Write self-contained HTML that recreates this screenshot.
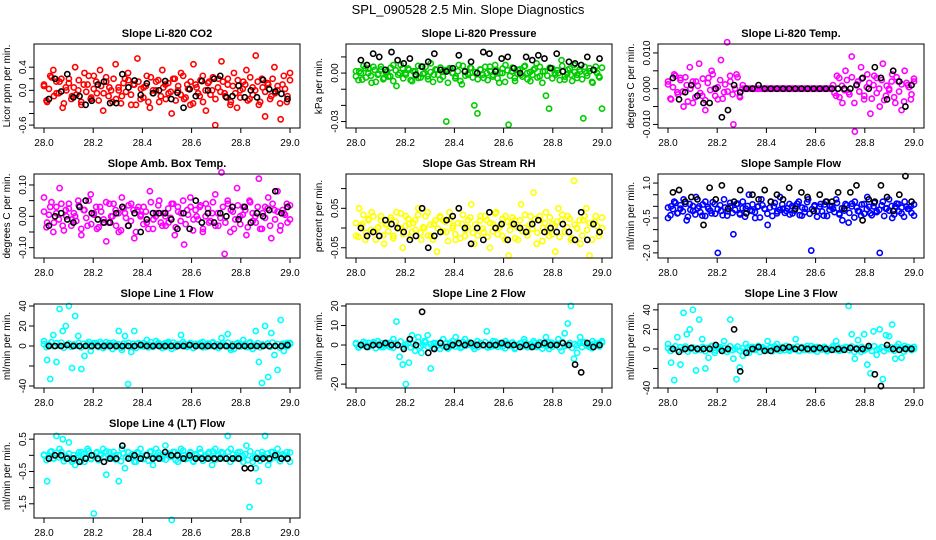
<!DOCTYPE html>
<html><head><meta charset="utf-8"><style>
body{margin:0;background:#fff;}
svg{display:block;font-family:"Liberation Sans",sans-serif;}
</style></head><body>
<svg id="chart" width="936" height="540" viewBox="0 0 936 540">
<rect x="0" y="0" width="936" height="540" fill="#fff"/>
<text x="468" y="14" text-anchor="middle" font-size="13">SPL_090528  2.5 Min. Slope Diagnostics</text>
</svg>
<script>
const xTicks=[28.0,28.2,28.4,28.6,28.8,29.0];
const coreNoise=[3,-7,1,9,-4,6,-2,8,-9,0,5,-6,2,-3,7,-8,4,-1,10,-5,1,6,-7,3,-2,9,-4,0,8,-6,2,-9,5,-1,7,-3,4,-10,6,1,-5,3,-8,9,-2,0,7,-4,2,-6,5,-1,8,-7,3,-3,10,-5,1,6,-9,4,-2,7,-8,0,5,-3,9,-6,2,-1,6,-4,8,-10,3,-2,7,-5,1,4,-7,9,-3,0,6,-8,2,-1,5,-6,8,-2,3,-9,4,1,-4,7];
const co2Cloud=[10,-20,25,35,-5,15,-30,5,20,-10,40,0,-25,30,10,-15,25,-5,35,-35,15,5,-20,45,0,-10,20,30,-25,10,55,-15,5,25,-30,0,15,-20,35,10,-5,-40,20,0,30,-15,10,-25,45,5,-10,25,-35,15,0,-60,20,50,-5,10,-20,30,-30,0,15,35,-15,5,60,-25,20,-45,10,-10,40,0,-50,25,-20,30];
const co2Black=[-15,20,-2,28,-12,-10,-25,-18,10,15,-22,-22,28,5,17,-8,12,-5,0,16,-15,-4,-30,2,-10,16,0,20,25,-12,-10,8,-12,0,-12,18,2,-2,-6,-15];
const presCloud=[-2,1,-4,3,0,-6,2,-1,4,-3,1,-2,5,-8,0,3,-1,2,-5,1,-3,4,0,-2,6,-1,2,-4,1,-30,3,0,-2,5,-7,1,-1,3,-20,-25,2,-3,0,4,-1,2,-6,0,5,-32,1,-3,2,-1,4,0,-5,2,6,-2,1,-14,-22,3,-1,0,8,-4,2,-1,5,-3,1,-28,0,3,-6,4,-2,-22];
const presBlack=[8,5,12,10,2,13,8,6,9,-1,4,7,12,2,1,3,11,1,7,0,13,12,1,9,10,3,0,10,8,11,9,3,12,1,7,6,5,10,2,9];
const tempCloud=[2,-3,4,-1,3,-5,1,6,-4,2,7,-2,-6,3,5,0,-3,8,-1,13,2,-10,4,-2,1,0,0,0,0,0,0,0,0,0,0,0,0,0,0,0,0,0,0,0,0,0,0,0,0,0,0,0,0,1,-2,3,-4,5,-1,9,-12,2,6,-3,4,-7,1,3,-5,7,-2,0,4,-4,2,-6,5,1,-3,2];
const tempBlack=[3,-3,-1,1,-2,-4,-4,0,-8,-6,1,-1,0,0,1,0,0,0,0,0,0,0,0,0,0,0,0,0,0,0,1,3,0,6,3,-3,5,2,-5,1];
const ambCloud=[6,-2,3,-5,1,9,-3,2,4,-1,0,5,-6,2,-3,7,1,-4,3,-2,-8,4,0,2,-5,6,1,-3,4,-7,2,0,3,-2,8,-4,1,5,-3,0,-2,4,-6,3,1,-9,2,6,-1,0,3,-5,4,-2,1,7,-3,14,-12,5,2,-4,9,0,3,-6,5,1,-2,12,-4,3,6,-7,2,8,-3,1,4,-1];
const ambBlack=[-3,0,1,-1,-2,3,5,1,-1,-2,-2,1,3,-3,1,-5,-1,1,1,1,-1,-4,1,-4,5,-2,1,-2,1,0,3,-1,3,-2,1,0,2,8,1,3];
const rhCloud=[-2,5,1,-3,2,4,-1,0,3,-4,1,2,-2,4,0,-5,3,1,-1,2,5,-3,0,4,-2,1,-6,3,2,-1,4,0,-3,5,1,-2,2,6,-4,0,3,-1,2,-5,1,4,0,-2,3,-7,1,2,-3,6,0,-1,3,9,-4,2,0,4,-2,1,-6,5,2,-1,3,-3,12,0,-4,2,5,-7,1,3,-2,0];
const rhBlack=[0,-2,-1,-2,2,1,0,-1,-3,-2,5,-5,-2,-1,2,3,5,0,-4,0,-3,4,0,1,-3,1,0,-1,1,2,-1,0,-1,1,-1,-3,4,-3,1,-1];
const flowCloud=[-5,0,2,-3,-1,3,-6,1,-2,4,0,-4,2,-1,-3,1,-20,-2,3,-4,0,-12,1,-3,2,-1,5,-2,-5,0,3,-1,-8,2,0,-3,4,-1,-2,1,-3,0,2,-4,-1,3,-19,0,-2,1,-4,2,0,-1,3,-3,-6,1,-7,0,2,-2,-4,1,4,-3,0,-2,-20,2,-1,3,-5,0,1,-3,2,-1,0,-4];
const flowBlack=[6,7,2,4,3,-8,8,3,9,-1,2,7,-3,5,3,7,2,5,3,8,-1,6,4,-2,5,2,2,6,-1,6,9,-6,3,2,9,4,-2,5,13,2];
const l1Cloud=[5,-14,-33,11,-16,37,15,20,40,-22,30,10,-23,-10,2,-5,3,0,4,-2,1,3,-3,2,15,-4,10,-38,-6,15,2,0,3,6,1,-1,5,2,-2,3,4,-3,1,0,11,2,-1,3,-2,0,1,4,-1,2,3,0,-2,8,1,12,-4,-3,2,0,6,-1,3,-3,15,-16,-37,20,-31,13,-9,-24,26,-5,3,2];
const l1Black=[0,0,0,1,0,0,0,0,0,0,0,0,0,0,0,1,0,0,0,0,0,0,0,1,0,0,0,0,0,0,0,0,0,0,0,0,0,0,0,1];
const l2Cloud=[1,-1,0,1,-1,0,1,2,-1,0,1,-1,3,12,-6,-10,-20,-9,5,-3,4,-4,2,5,-12,1,0,-2,3,1,-1,2,4,0,-1,3,1,0,-2,2,1,0,7,-1,2,0,1,-1,2,0,1,-2,0,1,3,0,-1,2,-1,1,0,4,-2,1,0,3,-3,6,11,20,-7,-4,4,1,0,-1,2,0,1,2];
const l2Black=[0,-1,0,0,1,0,0,-2,3,0,17,-4,-2,1,-1,0,1,0,1,0,0,0,0,1,0,0,-1,0,-1,0,1,0,0,1,0,-10,-14,1,-1,0];
const l3Cloud=[5,-14,-32,12,-16,37,15,20,40,-22,30,10,-20,-9,3,-4,2,0,8,-3,30,-10,-31,-19,-7,5,-4,2,0,3,1,-1,8,2,0,5,-2,1,3,-1,0,10,-2,2,1,0,3,-1,2,0,1,-2,0,3,8,0,-1,2,44,15,-10,9,-3,15,-16,-25,18,-6,20,-31,14,13,25,-10,5,-9,3,2,1,0];
const l3Black=[0,-3,0,1,0,0,0,4,-2,0,20,-23,-4,0,2,-2,-2,0,1,2,0,1,0,0,1,0,-1,0,-1,1,0,0,3,-26,-38,4,0,-1,0,0];
const l4Cloud=[0,-8,1,-1,6,2,5,-1,4,-2,-3,0,1,-2,2,-1,-18,1,0,2,-6,1,-1,0,-8,2,-4,1,0,-2,1,2,-1,0,1,-3,2,0,-1,3,0,-20,1,-2,2,0,-1,1,-2,0,2,-1,0,1,-3,2,0,1,-1,6,2,-1,0,1,-2,3,-16,-2,-4,-8,1,6,-3,1,0,2,-1,0,1,-2];
const l4Black=[-1,0,0,-1,-1,-2,-1,0,-1,-2,-1,-1,3,-1,0,-1,0,-1,-1,1,0,0,-1,0,-1,-1,-1,-1,-1,-1,-1,-1,-4,-4,-1,-1,-1,0,-1,-1];

const NS='http://www.w3.org/2000/svg';
const svg=document.getElementById('chart');
function mk(tag,attrs,parent){const e=document.createElementNS(NS,tag);for(const k in attrs)e.setAttribute(k,attrs[k]);(parent||svg).appendChild(e);return e;}

const panels=[
 {id:'co2',title:'Slope Li-820 CO2',ylab:'Licor ppm per min.',col:'#ff0000',c:0,r:0,ymin:-0.65,ymax:0.8,scale:0.01,coreC:0,coreA:0.25,ticks:[-0.6,-0.4,-0.2,0,0.2,0.4],labels:['-0.6','','','0.0','','0.4'],cloud:co2Cloud,black:co2Black},
 {id:'pressure',title:'Slope Li-820 Pressure',ylab:'kPa per min.',col:'#00cc00',c:1,r:0,ymin:-0.034,ymax:0.018,scale:0.001,coreC:-0.0005,coreA:0.0055,ticks:[-0.03,-0.02,-0.01,0,0.01],labels:['-0.03','','','0.00',''],cloud:presCloud,black:presBlack},
 {id:'temp',title:'Slope Li-820 Temp.',ylab:'degrees C per min.',col:'#ff00ff',c:2,r:0,ymin:-0.011,ymax:0.0125,scale:0.001,coreC:0,coreA:0.004,flat:[28.3,28.67],ticks:[-0.01,-0.005,0,0.005,0.01],labels:['-0.010','','0.000','','0.010'],cloud:tempCloud,black:tempBlack},
 {id:'amb',title:'Slope Amb. Box Temp.',ylab:'degrees C per min.',col:'#ff00ff',c:0,r:1,ymin:-0.133,ymax:0.135,scale:0.01,coreC:0,coreA:0.05,ticks:[-0.1,-0.05,0,0.05,0.1],labels:['-0.10','','0.00','','0.10'],cloud:ambCloud,black:ambBlack},
 {id:'rh',title:'Slope Gas Stream RH',ylab:'percent per min.',col:'#ffff00',c:1,r:1,ymin:-0.076,ymax:0.137,scale:0.01,coreC:0.002,coreA:0.035,ticks:[-0.05,0,0.05,0.1],labels:['-0.05','','0.05',''],cloud:rhCloud,black:rhBlack},
 {id:'sample-flow',title:'Slope Sample Flow',ylab:'ml/min per min.',col:'#0000ff',c:2,r:1,ymin:-2.22,ymax:1.39,scale:0.1,coreC:-0.15,coreA:0.33,ticks:[-2,-1.5,-1,-0.5,0,0.5,1],labels:['-2.0','','','-0.5','','','1.0'],cloud:flowCloud,black:flowBlack},
 {id:'line1',title:'Slope Line 1 Flow',ylab:'ml/min per min.',col:'#00ffff',c:0,r:2,ymin:-42,ymax:42,scale:1,coreC:1,coreA:3,ticks:[-40,-20,0,20,40],labels:['-40','','0','20','40'],cloud:l1Cloud,black:l1Black},
 {id:'line2',title:'Slope Line 2 Flow',ylab:'ml/min per min.',col:'#00ffff',c:1,r:2,ymin:-22,ymax:21,scale:1,coreC:0,coreA:1.8,ticks:[-20,-10,0,10,20],labels:['-20','','0','10','20'],cloud:l2Cloud,black:l2Black},
 {id:'line3',title:'Slope Line 3 Flow',ylab:'ml/min per min.',col:'#00ffff',c:2,r:2,ymin:-40,ymax:46,scale:1,coreC:0,coreA:3,ticks:[-40,-20,0,20,40],labels:['-40','','0','20','40'],cloud:l3Cloud,black:l3Black},
 {id:'line4',title:'Slope Line 4 (LT) Flow',ylab:'ml/min per min.',col:'#00ffff',c:0,r:3,ymin:-1.94,ymax:0.66,scale:0.1,coreC:-0.03,coreA:0.17,ticks:[-1.5,-1,-0.5,0,0.5],labels:['-1.5','','-0.5','','0.5'],cloud:l4Cloud,black:l4Black}
];
const colX=[34,346,658], rowY=[44,174,304,434], W=266, H=84;

panels.forEach(p=>{
 const x0=colX[p.c], y0=rowY[p.r];
 const g=mk('g',{});
 
 
 const sx=v=>x0+10+(v-28)*(W-20);
 const sy=v=>y0+H-(v-p.ymin)/(p.ymax-p.ymin)*H;
 const t=mk('text',{x:x0+W/2,y:y0-7,'text-anchor':'middle','font-size':11,'font-weight':'bold'},g);
 t.textContent=p.title;
 
 
 const yl=mk('text',{x:0,y:0,'text-anchor':'middle','font-size':10,transform:`translate(${x0-24},${y0+H/2}) rotate(-90)`},g);
 yl.textContent=p.ylab;
 
 
 const xa=mk('g',{},g);
 
 
 xTicks.forEach(v=>{
  mk('line',{x1:sx(v),x2:sx(v),y1:y0+H,y2:y0+H+5,stroke:'#000','stroke-width':1},xa);
  const tl=mk('text',{x:sx(v),y:y0+H+18,'text-anchor':'middle','font-size':10},xa);
  tl.textContent=v.toFixed(1);
  
  
 });
 const ya=mk('g',{},g);
 
 
 p.ticks.forEach((v,i)=>{
  mk('line',{x1:x0-5,x2:x0,y1:sy(v),y2:sy(v),stroke:'#000','stroke-width':1},ya);
  if(p.labels[i]){
   const tl=mk('text',{x:0,y:0,'text-anchor':'middle','font-size':10,transform:`translate(${x0-8},${sy(v)}) rotate(-90)`},ya);
   tl.textContent=p.labels[i];
   
   
  }
 });
 const cg=mk('g',{fill:'none',stroke:p.col,'stroke-width':1.6},g);
 
 
 const k=coreNoise.length;
 coreNoise.forEach((v,i)=>{
  const xv=28+i/(k-1);
  const inFlat=p.flat && xv>p.flat[0] && xv<p.flat[1];
  const yv=inFlat?0:p.coreC+v/10*p.coreA;
  const c=mk('circle',{cx:sx(xv),cy:sy(yv),r:2.6},cg);
  
  
 });
 const n=p.cloud.length;
 p.cloud.forEach((v,i)=>{
  const c=mk('circle',{cx:sx(28+i/(n-1)),cy:sy(v*p.scale),r:2.6},cg);
  
  
 });
 const bg=mk('g',{fill:'none',stroke:'#000','stroke-width':1.6},g);
 
 
 const m=p.black.length;
 p.black.forEach((v,i)=>{
  const c=mk('circle',{cx:sx(28.02+0.97*i/(m-1)),cy:sy(v*p.scale),r:2.6},bg);
  
  
 });
 const fr=mk('rect',{x:x0,y:y0,width:W,height:H,fill:'none',stroke:'#000','stroke-width':1},g);
 
 
});
</script>
</body></html>
